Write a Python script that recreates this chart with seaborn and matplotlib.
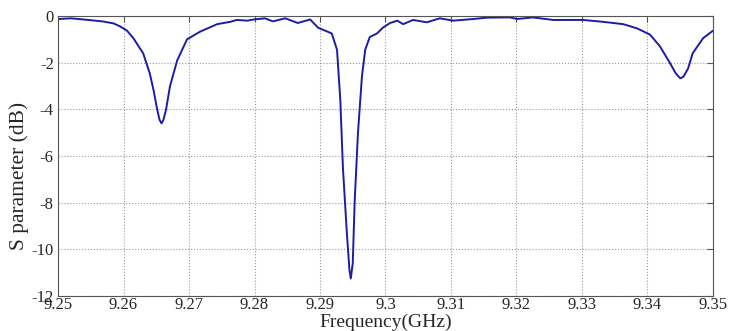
import numpy as np
import pandas as pd
import matplotlib
matplotlib.use('Agg')
import matplotlib.pyplot as plt
import seaborn as sns

# S parameter curve
freq_ghz = [9.2500, 9.2520, 9.2550, 9.2570, 9.2585, 9.2595, 9.2605, 9.2615,
            9.2630, 9.2640, 9.2646, 9.2651, 9.2655, 9.2658, 9.2661, 9.2665,
            9.2671, 9.2682, 9.2697, 9.2717, 9.2743, 9.2763, 9.2773, 9.2789,
            9.2799, 9.2816, 9.2828, 9.2847, 9.2866, 9.2885, 9.2897, 9.2908,
            9.2918, 9.2926, 9.2931, 9.2935, 9.2941, 9.2945, 9.2947, 9.2950,
            9.2953, 9.2958, 9.2964, 9.2969, 9.2976, 9.2987, 9.2996, 9.3007,
            9.3018, 9.3027, 9.3042, 9.3063, 9.3083, 9.3103, 9.3134, 9.3155,
            9.3190, 9.3201, 9.3225, 9.3256, 9.3302, 9.3332, 9.3363, 9.3384,
            9.3404, 9.3419, 9.3434, 9.3443, 9.3450, 9.3455, 9.3462, 9.3469,
            9.3485, 9.3500]
s_db = [-0.13, -0.10, -0.18, -0.24, -0.32, -0.45, -0.62, -0.95,
        -1.60, -2.45, -3.20, -3.95, -4.45, -4.60, -4.45, -4.00,
        -3.00, -1.90, -1.00, -0.67, -0.35, -0.25, -0.17, -0.20,
        -0.15, -0.10, -0.23, -0.10, -0.30, -0.15, -0.50, -0.63,
        -0.75, -1.45, -3.60, -6.50, -9.30, -10.90, -11.25, -10.60,
        -7.90, -5.00, -2.60, -1.45, -0.90, -0.75, -0.50, -0.30,
        -0.20, -0.35, -0.17, -0.27, -0.10, -0.20, -0.13, -0.07,
        -0.06, -0.13, -0.06, -0.17, -0.17, -0.25, -0.35, -0.53,
        -0.80, -1.30, -2.00, -2.45, -2.67, -2.60, -2.25, -1.60,
        -0.95, -0.63]

x_ticks = [9.25, 9.26, 9.27, 9.28, 9.29, 9.30, 9.31, 9.32, 9.33, 9.34, 9.35]
x_tick_labels = ['9.25', '9.26', '9.27', '9.28', '9.29', '9.3',
                 '9.31', '9.32', '9.33', '9.34', '9.35']
y_ticks = [-12, -10, -8, -6, -4, -2, 0]

df = pd.DataFrame({'freq': freq_ghz, 's': s_db})

sns.set_style('white')
plt.rcParams['font.family'] = ['Liberation Serif', 'DejaVu Serif']
plt.rcParams['font.size'] = 12
plt.rcParams['axes.unicode_minus'] = False

fig = plt.figure(figsize=(7.29, 3.31), dpi=100)
ax = fig.add_axes([0.0796, 0.1057, 0.8984, 0.846])

sns.lineplot(data=df, x='freq', y='s', ax=ax, color='#1c1ca8', linewidth=1.4)

ax.set_xlim(9.25, 9.35)
ax.set_ylim(-12, 0)
ax.set_xticks(x_ticks)
ax.set_xticklabels(x_tick_labels)
ax.set_yticks(y_ticks)
ax.tick_params(direction='in', length=4, color='#555555', labelsize=12, pad=1,
               top=True, right=True)
ax.tick_params(axis='y', pad=3)
ax.grid(True, linestyle=':', color='#999999', linewidth=0.8)
for sp in ax.spines.values():
    sp.set_color('#555555')
    sp.set_linewidth(0.8)

ax.set_xlabel('Frequency(GHz)', fontsize=14, labelpad=0.5)
ax.set_ylabel('S parameter (dB)', fontsize=15.5)
ax.yaxis.set_label_coords(-0.045, 0.43)

plt.savefig('out.png', dpi=100)
plt.close()
